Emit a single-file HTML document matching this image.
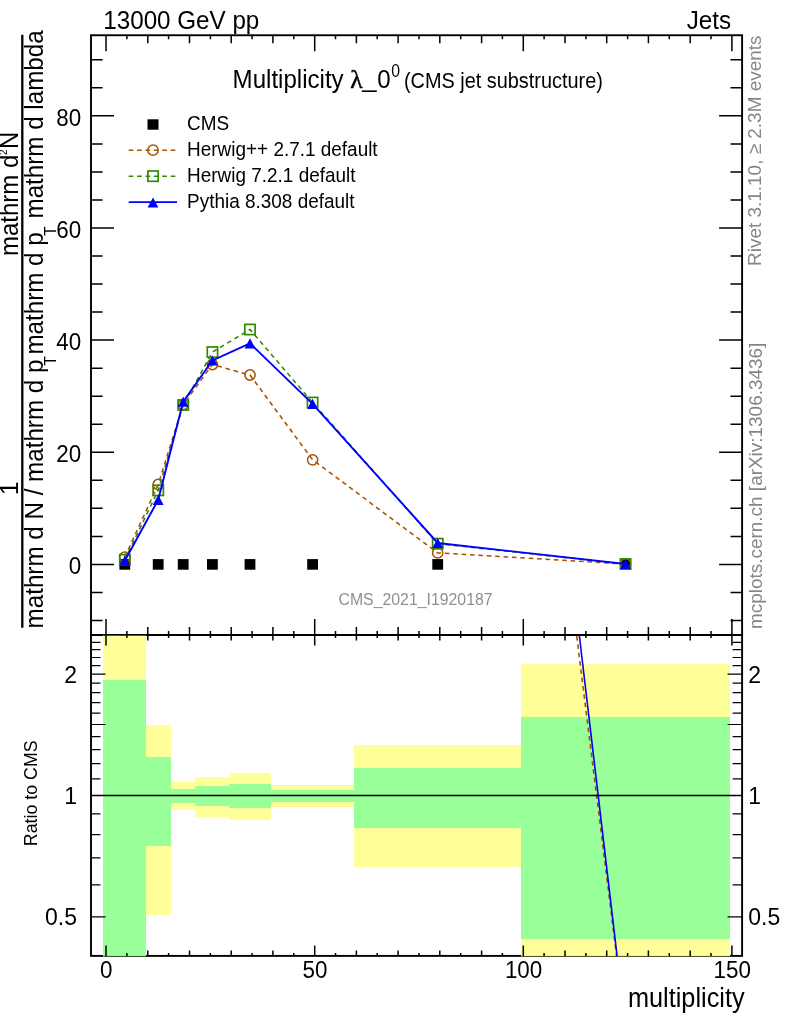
<!DOCTYPE html>
<html><head><meta charset="utf-8"><title>plot</title><style>html,body{margin:0;padding:0;background:#fff}svg{display:block}</style></head><body>
<svg width="786" height="1024" viewBox="0 0 786 1024" font-family='"Liberation Sans", sans-serif'>
<rect width="786" height="1024" fill="#fff"/>
<g stroke="#000" stroke-width="1.9" fill="none">
<rect x="91.0" y="35.25" width="651.1" height="599.75"/>
<rect x="91.0" y="635.0" width="651.1" height="320.9"/>
</g>
<g shape-rendering="crispEdges">
<rect x="103.3" y="635.0" width="42.7" height="322.0" fill="#ffff99"/>
<rect x="103.3" y="680.0" width="42.7" height="277.0" fill="#99ff99"/>
<rect x="146.0" y="725.0" width="25.0" height="190.3" fill="#ffff99"/>
<rect x="146.0" y="756.5" width="25.0" height="89.1" fill="#99ff99"/>
<rect x="171.0" y="781.8" width="24.3" height="28.1" fill="#ffff99"/>
<rect x="171.0" y="788.5" width="24.3" height="14.7" fill="#99ff99"/>
<rect x="195.3" y="776.9" width="33.5" height="40.0" fill="#ffff99"/>
<rect x="195.3" y="786.1" width="33.5" height="19.9" fill="#99ff99"/>
<rect x="228.8" y="773.3" width="42.3" height="46.7" fill="#ffff99"/>
<rect x="228.8" y="784.0" width="42.3" height="23.8" fill="#99ff99"/>
<rect x="271.1" y="784.6" width="82.9" height="22.3" fill="#ffff99"/>
<rect x="271.1" y="790.1" width="82.9" height="11.6" fill="#99ff99"/>
<rect x="354.0" y="745.2" width="167.2" height="121.5" fill="#ffff99"/>
<rect x="354.0" y="768.1" width="167.2" height="59.5" fill="#99ff99"/>
<rect x="521.2" y="663.8" width="208.7" height="293.2" fill="#ffff99"/>
<rect x="521.2" y="717.1" width="208.7" height="221.6" fill="#99ff99"/>
</g>
<line x1="103.3" y1="635.45" x2="146" y2="635.45" stroke="#33331a" stroke-width="0.9"/>
<line x1="103.3" y1="956.45" x2="146" y2="956.45" stroke="#1f3a1f" stroke-width="0.9"/>
<line x1="521.2" y1="956.45" x2="729.9" y2="956.45" stroke="#33331a" stroke-width="0.9"/>
<clipPath id="rc"><rect x="91.0" y="635.0" width="651.1" height="320.9"/></clipPath>
<g clip-path="url(#rc)" fill="none" stroke-width="1.6">
<line x1="576.7" y1="636" x2="616.6" y2="956" stroke="#aa5000" stroke-dasharray="4.6 3.8"/>
<line x1="579.4" y1="636" x2="617.1" y2="956" stroke="#0000ff"/>
</g>
<line x1="91.0" y1="795.5" x2="742.1" y2="795.5" stroke="#000" stroke-width="1.4"/>
<path d="M106.0 35.2L106.0 51.2M106.0 635.0L106.0 619.0M106.0 635.0L106.0 645.5M106.0 955.9L106.0 945.4M126.9 35.2L126.9 39.2M126.9 635.0L126.9 631.0M126.9 635.0L126.9 638.0M126.9 955.9L126.9 952.9M147.8 35.2L147.8 43.2M147.8 635.0L147.8 627.0M147.8 635.0L147.8 640.5M147.8 955.9L147.8 950.4M168.6 35.2L168.6 39.2M168.6 635.0L168.6 631.0M168.6 635.0L168.6 638.0M168.6 955.9L168.6 952.9M189.5 35.2L189.5 43.2M189.5 635.0L189.5 627.0M189.5 635.0L189.5 640.5M189.5 955.9L189.5 950.4M210.4 35.2L210.4 39.2M210.4 635.0L210.4 631.0M210.4 635.0L210.4 638.0M210.4 955.9L210.4 952.9M231.2 35.2L231.2 43.2M231.2 635.0L231.2 627.0M231.2 635.0L231.2 640.5M231.2 955.9L231.2 950.4M252.1 35.2L252.1 39.2M252.1 635.0L252.1 631.0M252.1 635.0L252.1 638.0M252.1 955.9L252.1 952.9M272.9 35.2L272.9 43.2M272.9 635.0L272.9 627.0M272.9 635.0L272.9 640.5M272.9 955.9L272.9 950.4M293.8 35.2L293.8 39.2M293.8 635.0L293.8 631.0M293.8 635.0L293.8 638.0M293.8 955.9L293.8 952.9M314.7 35.2L314.7 51.2M314.7 635.0L314.7 619.0M314.7 635.0L314.7 645.5M314.7 955.9L314.7 945.4M335.5 35.2L335.5 39.2M335.5 635.0L335.5 631.0M335.5 635.0L335.5 638.0M335.5 955.9L335.5 952.9M356.4 35.2L356.4 43.2M356.4 635.0L356.4 627.0M356.4 635.0L356.4 640.5M356.4 955.9L356.4 950.4M377.2 35.2L377.2 39.2M377.2 635.0L377.2 631.0M377.2 635.0L377.2 638.0M377.2 955.9L377.2 952.9M398.1 35.2L398.1 43.2M398.1 635.0L398.1 627.0M398.1 635.0L398.1 640.5M398.1 955.9L398.1 950.4M419.0 35.2L419.0 39.2M419.0 635.0L419.0 631.0M419.0 635.0L419.0 638.0M419.0 955.9L419.0 952.9M439.8 35.2L439.8 43.2M439.8 635.0L439.8 627.0M439.8 635.0L439.8 640.5M439.8 955.9L439.8 950.4M460.7 35.2L460.7 39.2M460.7 635.0L460.7 631.0M460.7 635.0L460.7 638.0M460.7 955.9L460.7 952.9M481.6 35.2L481.6 43.2M481.6 635.0L481.6 627.0M481.6 635.0L481.6 640.5M481.6 955.9L481.6 950.4M502.4 35.2L502.4 39.2M502.4 635.0L502.4 631.0M502.4 635.0L502.4 638.0M502.4 955.9L502.4 952.9M523.3 35.2L523.3 51.2M523.3 635.0L523.3 619.0M523.3 635.0L523.3 645.5M523.3 955.9L523.3 945.4M544.1 35.2L544.1 39.2M544.1 635.0L544.1 631.0M544.1 635.0L544.1 638.0M544.1 955.9L544.1 952.9M565.0 35.2L565.0 43.2M565.0 635.0L565.0 627.0M565.0 635.0L565.0 640.5M565.0 955.9L565.0 950.4M585.9 35.2L585.9 39.2M585.9 635.0L585.9 631.0M585.9 635.0L585.9 638.0M585.9 955.9L585.9 952.9M606.7 35.2L606.7 43.2M606.7 635.0L606.7 627.0M606.7 635.0L606.7 640.5M606.7 955.9L606.7 950.4M627.6 35.2L627.6 39.2M627.6 635.0L627.6 631.0M627.6 635.0L627.6 638.0M627.6 955.9L627.6 952.9M648.4 35.2L648.4 43.2M648.4 635.0L648.4 627.0M648.4 635.0L648.4 640.5M648.4 955.9L648.4 950.4M669.3 35.2L669.3 39.2M669.3 635.0L669.3 631.0M669.3 635.0L669.3 638.0M669.3 955.9L669.3 952.9M690.2 35.2L690.2 43.2M690.2 635.0L690.2 627.0M690.2 635.0L690.2 640.5M690.2 955.9L690.2 950.4M711.0 35.2L711.0 39.2M711.0 635.0L711.0 631.0M711.0 635.0L711.0 638.0M711.0 955.9L711.0 952.9M731.9 35.2L731.9 51.2M731.9 635.0L731.9 619.0M731.9 635.0L731.9 645.5M731.9 955.9L731.9 945.4M91.0 620.5L102.6 620.5M742.1 620.5L730.5 620.5M91.0 592.4L102.6 592.4M742.1 592.4L730.5 592.4M91.0 564.4L114.0 564.4M742.1 564.4L719.1 564.4M91.0 536.4L102.6 536.4M742.1 536.4L730.5 536.4M91.0 508.3L102.6 508.3M742.1 508.3L730.5 508.3M91.0 480.3L102.6 480.3M742.1 480.3L730.5 480.3M91.0 452.3L114.0 452.3M742.1 452.3L719.1 452.3M91.0 424.2L102.6 424.2M742.1 424.2L730.5 424.2M91.0 396.2L102.6 396.2M742.1 396.2L730.5 396.2M91.0 368.2L102.6 368.2M742.1 368.2L730.5 368.2M91.0 340.1L114.0 340.1M742.1 340.1L719.1 340.1M91.0 312.1L102.6 312.1M742.1 312.1L730.5 312.1M91.0 284.0L102.6 284.0M742.1 284.0L730.5 284.0M91.0 256.0L102.6 256.0M742.1 256.0L730.5 256.0M91.0 228.0L114.0 228.0M742.1 228.0L719.1 228.0M91.0 199.9L102.6 199.9M742.1 199.9L730.5 199.9M91.0 171.9L102.6 171.9M742.1 171.9L730.5 171.9M91.0 143.9L102.6 143.9M742.1 143.9L730.5 143.9M91.0 115.8L114.0 115.8M742.1 115.8L719.1 115.8M91.0 87.8L102.6 87.8M742.1 87.8L730.5 87.8M91.0 59.8L102.6 59.8M742.1 59.8L730.5 59.8" stroke="#000" stroke-width="1.5" fill="none"/>
<path d="M91.0 916.8L105.5 916.8M742.1 916.8L727.6 916.8M91.0 884.9L100.5 884.9M742.1 884.9L732.6 884.9M91.0 857.9L100.5 857.9M742.1 857.9L732.6 857.9M91.0 834.6L100.5 834.6M742.1 834.6L732.6 834.6M91.0 813.9L100.5 813.9M742.1 813.9L732.6 813.9M91.0 795.5L105.5 795.5M742.1 795.5L727.6 795.5M91.0 778.8L100.5 778.8M742.1 778.8L732.6 778.8M91.0 763.6L100.5 763.6M742.1 763.6L732.6 763.6M91.0 749.6L100.5 749.6M742.1 749.6L732.6 749.6M91.0 736.6L100.5 736.6M742.1 736.6L732.6 736.6M91.0 724.5L105.5 724.5M742.1 724.5L727.6 724.5M91.0 713.2L100.5 713.2M742.1 713.2L732.6 713.2M91.0 702.6L100.5 702.6M742.1 702.6L732.6 702.6M91.0 692.6L100.5 692.6M742.1 692.6L732.6 692.6M91.0 683.2L100.5 683.2M742.1 683.2L732.6 683.2M91.0 674.2L105.5 674.2M742.1 674.2L727.6 674.2M91.0 665.6L100.5 665.6M742.1 665.6L732.6 665.6M91.0 657.5L100.5 657.5M742.1 657.5L732.6 657.5M91.0 649.7L100.5 649.7M742.1 649.7L732.6 649.7M91.0 642.3L100.5 642.3M742.1 642.3L732.6 642.3" stroke="#000" stroke-width="1.2" fill="none"/>
<rect x="119.4" y="559.1" width="10.8" height="10.6" fill="#000"/>
<rect x="152.8" y="559.1" width="10.8" height="10.6" fill="#000"/>
<rect x="177.8" y="559.1" width="10.8" height="10.6" fill="#000"/>
<rect x="207.0" y="559.1" width="10.8" height="10.6" fill="#000"/>
<rect x="244.6" y="559.1" width="10.8" height="10.6" fill="#000"/>
<rect x="307.2" y="559.1" width="10.8" height="10.6" fill="#000"/>
<rect x="432.3" y="559.1" width="10.8" height="10.6" fill="#000"/>
<rect x="620.1" y="559.1" width="10.8" height="10.6" fill="#000"/>
<polyline points="124.8,557.1 158.2,484.5 183.2,404.5 212.4,364.5 250.0,375.0 312.6,459.8 437.7,552.9 625.5,564.0" fill="none" stroke="#aa5000" stroke-width="1.55" stroke-dasharray="4.6 3.8"/>
<circle cx="124.8" cy="557.1" r="5.15" fill="none" stroke="#aa5000" stroke-width="1.5"/>
<circle cx="158.2" cy="484.5" r="5.15" fill="none" stroke="#aa5000" stroke-width="1.5"/>
<circle cx="183.2" cy="404.5" r="5.15" fill="none" stroke="#aa5000" stroke-width="1.5"/>
<circle cx="212.4" cy="364.5" r="5.15" fill="none" stroke="#aa5000" stroke-width="1.5"/>
<circle cx="250.0" cy="375.0" r="5.15" fill="none" stroke="#aa5000" stroke-width="1.5"/>
<circle cx="312.6" cy="459.8" r="5.15" fill="none" stroke="#aa5000" stroke-width="1.5"/>
<circle cx="437.7" cy="552.9" r="5.15" fill="none" stroke="#aa5000" stroke-width="1.5"/>
<circle cx="625.5" cy="564.0" r="5.15" fill="none" stroke="#aa5000" stroke-width="1.5"/>
<polyline points="124.8,559.7 158.2,490.4 183.2,405.0 212.4,352.1 250.0,329.5 312.6,402.5 437.7,543.7 625.5,564.0" fill="none" stroke="#338a00" stroke-width="1.55" stroke-dasharray="4.6 3.8"/>
<rect x="119.7" y="554.6" width="10.3" height="10.2" fill="none" stroke="#338a00" stroke-width="1.7"/>
<rect x="153.1" y="485.3" width="10.3" height="10.2" fill="none" stroke="#338a00" stroke-width="1.7"/>
<rect x="178.1" y="399.9" width="10.3" height="10.2" fill="none" stroke="#338a00" stroke-width="1.7"/>
<rect x="207.3" y="347.0" width="10.3" height="10.2" fill="none" stroke="#338a00" stroke-width="1.7"/>
<rect x="244.8" y="324.4" width="10.3" height="10.2" fill="none" stroke="#338a00" stroke-width="1.7"/>
<rect x="307.4" y="397.4" width="10.3" height="10.2" fill="none" stroke="#338a00" stroke-width="1.7"/>
<rect x="432.6" y="538.6" width="10.3" height="10.2" fill="none" stroke="#338a00" stroke-width="1.7"/>
<rect x="620.4" y="558.9" width="10.3" height="10.2" fill="none" stroke="#338a00" stroke-width="1.7"/>
<polyline points="124.8,560.7 158.2,499.8 183.2,401.6 212.4,360.5 250.0,343.4 312.6,403.8 437.7,543.0 625.5,564.0" fill="none" stroke="#0000ff" stroke-width="1.9"/>
<path d="M119.4 565.8L130.2 565.8L124.8 555.6Z" fill="#0000ff"/>
<path d="M152.8 504.9L163.6 504.9L158.2 494.7Z" fill="#0000ff"/>
<path d="M177.8 406.7L188.6 406.7L183.2 396.5Z" fill="#0000ff"/>
<path d="M207.0 365.6L217.8 365.6L212.4 355.4Z" fill="#0000ff"/>
<path d="M244.6 348.5L255.4 348.5L250.0 338.3Z" fill="#0000ff"/>
<path d="M307.2 408.9L318.0 408.9L312.6 398.7Z" fill="#0000ff"/>
<path d="M432.3 548.1L443.1 548.1L437.7 537.9Z" fill="#0000ff"/>
<path d="M620.1 569.1L630.9 569.1L625.5 558.9Z" fill="#0000ff"/>
<rect x="147.5" y="119.3" width="11" height="10.4" fill="#000"/>
<line x1="128.7" y1="150.2" x2="175.5" y2="150.2" stroke="#aa5000" stroke-width="1.55" stroke-dasharray="4.6 3.8"/>
<circle cx="153" cy="150.2" r="5.15" fill="none" stroke="#aa5000" stroke-width="1.5"/>
<line x1="128.7" y1="176.3" x2="175.5" y2="176.3" stroke="#338a00" stroke-width="1.55" stroke-dasharray="4.6 3.8"/>
<rect x="147.9" y="171.0" width="10.3" height="10.3" fill="none" stroke="#338a00" stroke-width="1.7"/>
<line x1="128.7" y1="202.2" x2="177" y2="202.2" stroke="#0000ff" stroke-width="1.8"/>
<path d="M147.6 207.6L158.4 207.6L153.0 197.4Z" fill="#0000ff"/>
<text transform="translate(187.1,129.8) scale(1,1.07)" font-size="18.95">CMS</text>
<text transform="translate(187.1,155.8) scale(1,1.07)" font-size="18.95">Herwig++ 2.7.1 default</text>
<text transform="translate(187.1,182.1) scale(1,1.07)" font-size="18.95">Herwig 7.2.1 default</text>
<text transform="translate(187.1,208.4) scale(1,1.07)" font-size="18.95">Pythia 8.308 default</text>
<text transform="translate(103.3,29.3) scale(1,1.07)" font-size="24.2">13000 GeV pp</text>
<text transform="translate(731.0,29.3) scale(1,1.07)" font-size="24.2" text-anchor="end">Jets</text>
<text transform="translate(232.6,87.8) scale(1,1.07)" font-size="24.1">Multiplicity</text>
<text transform="translate(350.2,87.9)" font-size="25.5" font-family='"Liberation Serif","DejaVu Serif",serif' stroke='#000' stroke-width='0.45'>λ</text>
<text transform="translate(362.2,87.3)" font-size="25.6">_</text>
<text transform="translate(377.3,88.0) scale(1,1.07)" font-size="24.1">0</text>
<text transform="translate(391.2,76.8) scale(1,1.12)" font-size="15.8">0</text>
<text transform="translate(403.9,87.8) scale(1,1.07)" font-size="19.9">(CMS jet substructure)</text>
<text transform="translate(415.5,604.9) scale(1,1.03)" font-size="15.85" text-anchor="middle" fill="#909090">CMS_2021_I1920187</text>
<text transform="translate(81.2,574.3) scale(1,1.055)" font-size="22.4" text-anchor="end">0</text>
<text transform="translate(81.2,462.2) scale(1,1.055)" font-size="22.4" text-anchor="end">20</text>
<text transform="translate(81.2,350.0) scale(1,1.055)" font-size="22.4" text-anchor="end">40</text>
<text transform="translate(81.2,237.9) scale(1,1.055)" font-size="22.4" text-anchor="end">60</text>
<text transform="translate(81.2,125.7) scale(1,1.055)" font-size="22.4" text-anchor="end">80</text>
<text transform="translate(77.0,682.5) scale(1,1.055)" font-size="23.0" text-anchor="end">2</text>
<text transform="translate(748.3,682.5) scale(1,1.055)" font-size="23.0">2</text>
<text transform="translate(77.0,803.8) scale(1,1.055)" font-size="23.0" text-anchor="end">1</text>
<text transform="translate(748.3,803.8) scale(1,1.055)" font-size="23.0">1</text>
<text transform="translate(77.0,925.1) scale(1,1.055)" font-size="23.0" text-anchor="end">0.5</text>
<text transform="translate(748.3,925.1) scale(1,1.055)" font-size="23.0">0.5</text>
<text transform="translate(106.3,978.0) scale(1,1.055)" font-size="22.4" text-anchor="middle">0</text>
<text transform="translate(315.0,978.0) scale(1,1.055)" font-size="22.4" text-anchor="middle">50</text>
<text transform="translate(523.6,978.0) scale(1,1.055)" font-size="22.4" text-anchor="middle">100</text>
<text transform="translate(732.2,978.0) scale(1,1.055)" font-size="22.4" text-anchor="middle">150</text>
<text transform="translate(744.6,1006.9) scale(1,1.07)" font-size="25.3" text-anchor="end">multiplicity</text>
<text transform="translate(36.5,793.3) rotate(-90) scale(1,1.07)" font-size="17.8" text-anchor="middle">Ratio to CMS</text>
<text transform="translate(761.0,35.5) rotate(-90)" font-size="18.95" text-anchor="end" fill="#868686">Rivet 3.1.10, ≥ 2.3M events</text>
<text transform="translate(761.8,629.0) rotate(-90)" font-size="18.95" fill="#868686">mcplots.cern.ch [arXiv:1306.3436]</text>
<text transform="translate(18.4,488.3) rotate(-90) scale(1,1.05)" font-size="24.2" text-anchor="middle">1</text>
<text transform="translate(42.8,628.4) rotate(-90) scale(1,1.05)" font-size="24.2">mathrm d N / mathrm d p</text>
<text transform="translate(55.9,365.6) rotate(-90) scale(1,1.05)" font-size="15.5">T</text>
<text transform="translate(42.8,354.6) rotate(-90) scale(1,1.05)" font-size="24.2">mathrm d p</text>
<text transform="translate(55.9,235.7) rotate(-90) scale(1,1.05)" font-size="15.5">T</text>
<text transform="translate(42.8,218.5) rotate(-90) scale(1,1.05)" font-size="24.2">mathrm d lambda</text>
<text transform="translate(18.0,256.0) rotate(-90) scale(1,1.05)" font-size="24">mathrm d</text>
<text transform="translate(7.0,154.9) rotate(-90) scale(1,1.05)" font-size="10">2</text>
<text transform="translate(18.0,148.9) rotate(-90) scale(1,1.05)" font-size="24">N</text>
<line x1="22.3" y1="34.8" x2="22.3" y2="627.8" stroke="#000" stroke-width="2.3"/>
</svg>
</body></html>
